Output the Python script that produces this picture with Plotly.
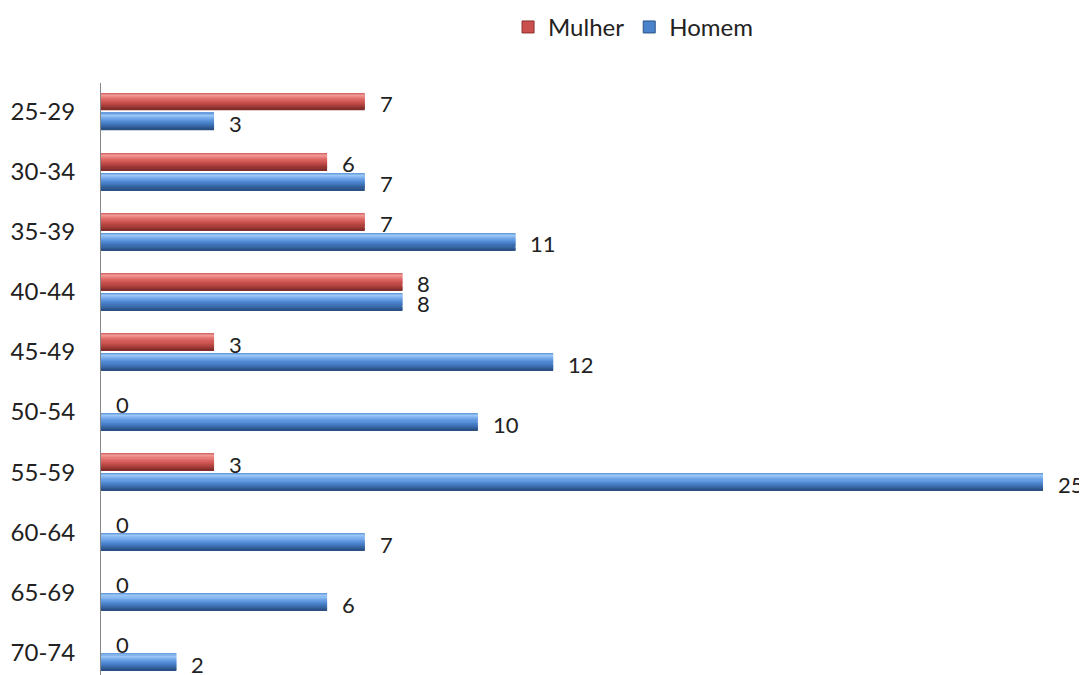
import plotly.graph_objects as go

categories = ["25-29", "30-34", "35-39", "40-44", "45-49", "50-54", "55-59", "60-64", "65-69", "70-74"]
mulher = [7, 6, 7, 8, 3, 0, 3, 0, 0, 0]
homem = [3, 7, 11, 8, 12, 10, 25, 7, 6, 2]

pos = list(range(len(categories)))

FONT = "Lato, Open Sans, sans-serif"
N_BANDS = 16


def hex2rgb(h):
    h = h.lstrip("#")
    return [int(h[i:i + 2], 16) for i in (0, 2, 4)]


def gradient(stops, n):
    cols = []
    for k in range(n):
        t = (k + 0.5) / n
        for (t0, c0), (t1, c1) in zip(stops[:-1], stops[1:]):
            if t0 <= t <= t1:
                f = (t - t0) / (t1 - t0)
                a, b = hex2rgb(c0), hex2rgb(c1)
                rgb = [round(a[j] + (b[j] - a[j]) * f) for j in range(3)]
                cols.append("rgb(%d,%d,%d)" % tuple(rgb))
                break
    return cols


red_stops = [(0, "#CF5E5B"), (0.15, "#F29A97"), (0.35, "#E06E6B"), (0.6, "#C8504D"),
             (0.85, "#9E3836"), (1.0, "#7A2A28")]
blue_stops = [(0, "#5C92D8"), (0.15, "#9CC8F6"), (0.35, "#6FA5E8"), (0.6, "#4A82CC"),
              (0.85, "#34639F"), (1.0, "#264C7E")]

series = [
    # name, values, offset, width, legend color, outline, gradient stops
    ("Mulher", mulher, -0.305, 0.28, "#C9504D", "#8E2F2D", red_stops),
    ("Homem", homem, 0.025, 0.283, "#4A82CC", "#2A5487", blue_stops),
]

fig = go.Figure()
annotations = []
for name, vals, off, w, base, dark, stops in series:
    grad = gradient(stops, N_BANDS)
    n = len(grad)
    for i, col in enumerate(grad):
        fig.add_trace(go.Bar(
            y=pos, x=vals, orientation="h",
            offset=off + i * w / n, width=w / n * 1.15,
            marker=dict(color=col, line=dict(width=0)),
            showlegend=False, hoverinfo="skip"))
    # legend entry
    fig.add_trace(go.Bar(
        y=[None], x=[None], orientation="h", name=name,
        marker=dict(color=base, line=dict(color=dark, width=1))))
    for p, v in zip(pos, vals):
        annotations.append(dict(
            x=v, y=p + off + w / 2 + 0.035, xref="x", yref="y",
            text=str(v), showarrow=False, xanchor="left", yanchor="middle",
            xshift=13,
            font=dict(family=FONT, size=22, color="#222222")))

fig.update_layout(
    width=1079, height=667,
    margin=dict(l=93, r=0, t=75, b=0, autoexpand=False),
    paper_bgcolor="white", plot_bgcolor="white",
    barmode="overlay",
    showlegend=True,
    legend=dict(orientation="h", x=0.5396, y=1.132, xref="paper", yref="paper",
                xanchor="center", yanchor="top",
                font=dict(family=FONT, size=24, color="#222222"),
                traceorder="normal", itemwidth=30),
    xaxis=dict(range=[0, 986 / 37.68], visible=False, showgrid=False, zeroline=False,
               automargin=False),
    yaxis=dict(range=[9.376, -0.474], tickvals=pos, ticktext=categories,
               showgrid=False, zeroline=False, showline=True, linecolor="#868686",
               linewidth=1, ticks="", ticklen=0, automargin=False,
               ticklabelstandoff=20,
               tickfont=dict(family=FONT, size=24, color="#222222")),
    annotations=annotations,
)

fig.write_html("out.html")
